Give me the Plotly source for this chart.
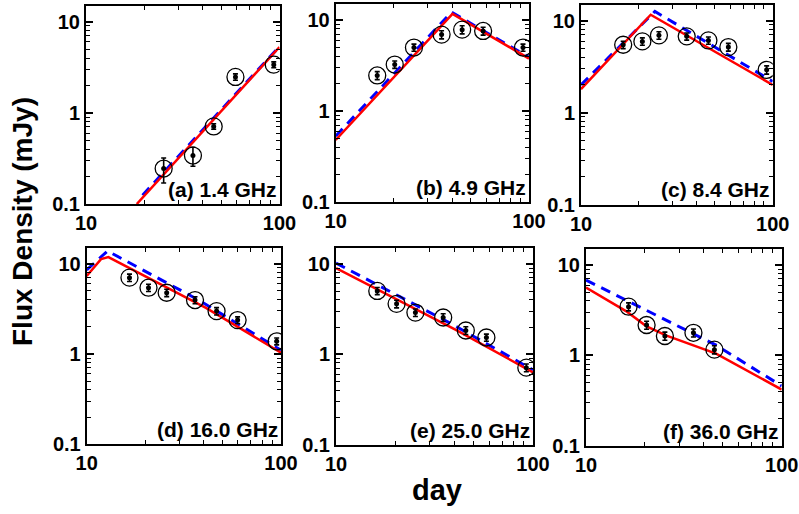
import plotly.graph_objects as go

W, H = 799, 514

# ---- observed data (day, flux mJy, error) ----
a_days = [25.2, 35.7, 45.7, 59.2, 93.4]
a_flux = [0.245, 0.34, 0.71, 2.48, 3.38]
a_err = [0.075, 0.08, 0.05, 0.2, 0.25]

b_days = [16.4, 20.2, 25.4, 35.3, 45.1, 57.9, 93.1]
b_flux = [2.46, 3.24, 4.98, 6.91, 7.84, 7.58, 4.98]
b_err = [0.25, 0.3, 0.45, 0.7, 0.8, 0.75, 0.45]

c_days = [16.6, 20.9, 25.5, 35.6, 46.2, 58.7, 93.0]
c_flux = [5.47, 5.95, 6.92, 6.75, 6.1, 5.16, 2.92]
c_err = [0.5, 0.55, 0.65, 0.6, 0.55, 0.5, 0.3]

d_days = [16.6, 20.8, 25.8, 36.1, 46.6, 59.8, 95.0]
d_flux = [6.99, 5.41, 4.76, 3.95, 2.98, 2.37, 1.38]
d_err = [0.65, 0.5, 0.45, 0.35, 0.28, 0.2, 0.12]

e_days = [16.2, 20.3, 25.3, 35.0, 45.6, 58.0, 92.5]
e_flux = [5.02, 3.61, 2.89, 2.55, 1.83, 1.53, 0.71]
e_err = [0.45, 0.35, 0.28, 0.25, 0.18, 0.14, 0.07]

f_days = [16.5, 20.4, 25.3, 35.4, 45.3]
f_flux = [3.46, 2.17, 1.64, 1.78, 1.16]
f_err = [0.35, 0.22, 0.17, 0.18, 0.12]

# ---- model curves (knot points) ----
a_red_d, a_red_f = [18.3, 100], [0.1, 5.28]
a_blue_d, a_blue_f = [19.6, 100], [0.125, 5.35]
b_red_d, b_red_f = [10, 40.2, 100], [0.48, 11.7, 3.77]
b_blue_d, b_blue_f = [10, 39.7, 100], [0.53, 12.2, 3.9]
c_red_d, c_red_f = [10, 23.1, 100], [1.80, 11.6, 2.0]
c_blue_d, c_blue_f = [10, 24.3, 100], [2.0, 12.6, 2.18]
d_red_d, d_red_f = [10, 11.85, 12.93, 41.1, 100], [7.28, 11.2, 11.8, 3.24, 1.03]
d_blue_d, d_blue_f = [10, 12.8, 37.3, 100], [8.5, 13.8, 4.0, 1.1]
e_red_d, e_red_f = [10, 40.6, 100], [8.96, 1.86, 0.63]
e_blue_d, e_blue_f = [10, 37.5, 100], [10.2, 2.24, 0.67]
f_red_d, f_red_f = [10, 16, 20.3, 25.6, 46.2, 100], [5.62, 3.09, 2.11, 1.67, 1.05, 0.42]
f_blue_d, f_blue_f = [10, 46.2, 100], [6.8, 1.3, 0.46]

labels = ["(a) 1.4 GHz", "(b) 4.9 GHz", "(c) 8.4 GHz",
          "(d) 16.0 GHz", "(e) 25.0 GHz", "(f) 36.0 GHz"]

x_ticks = [10, 100]
x_ticktext = ["10", "100"]
y_ticks = [0.1, 1, 10]
y_ticktext = ["0.1", "1", "10"]

panels = [
    (a_days, a_flux, a_err, a_red_d, a_red_f, a_blue_d, a_blue_f),
    (b_days, b_flux, b_err, b_red_d, b_red_f, b_blue_d, b_blue_f),
    (c_days, c_flux, c_err, c_red_d, c_red_f, c_blue_d, c_blue_f),
    (d_days, d_flux, d_err, d_red_d, d_red_f, d_blue_d, d_blue_f),
    (e_days, e_flux, e_err, e_red_d, e_red_f, e_blue_d, e_blue_f),
    (f_days, f_flux, f_err, f_red_d, f_red_f, f_blue_d, f_blue_f),
]

# pixel boxes (left, right, top, bottom)
boxes = [
    (86, 279.5, 5.7, 204),
    (335.7, 529, 4, 202),
    (581, 772.7, 4.5, 204.5),
    (86.7, 281, 247.7, 444.3),
    (336, 533, 248, 444.5),
    (586, 781.7, 249, 446),
]

minor_x = [20, 30, 40, 50, 60, 70, 80, 90]
minor_y = [0.2, 0.3, 0.4, 0.5, 0.6, 0.7, 0.8, 0.9, 2, 3, 4, 5, 6, 7, 8, 9]

FONT = "Liberation Sans, Arial, Helvetica, sans-serif"

fig = go.Figure()
layout = {}
for i, (box, p) in enumerate(zip(boxes, panels)):
    n = "" if i == 0 else str(i + 1)
    xa, ya = "x" + n, "y" + n
    days, flux, err, rd, rf, bd, bf = p
    fig.add_trace(go.Scatter(x=bd, y=bf, mode="lines", xaxis=xa, yaxis=ya,
                             line=dict(color="#0000FF", width=3, dash="10px,7px"),
                             showlegend=False, hoverinfo="skip"))
    fig.add_trace(go.Scatter(x=rd, y=rf, mode="lines", xaxis=xa, yaxis=ya,
                             line=dict(color="#FF0000", width=2.5),
                             showlegend=False, hoverinfo="skip"))
    fig.add_trace(go.Scatter(x=days, y=flux, mode="markers", xaxis=xa, yaxis=ya,
                             marker=dict(symbol="circle-open", size=17, color="black",
                                         line=dict(width=1.3, color="black")),
                             error_y=dict(type="data", array=err, color="black",
                                          thickness=1.6, width=2.5),
                             showlegend=False))
    fig.add_trace(go.Scatter(x=days, y=flux, mode="markers", xaxis=xa, yaxis=ya,
                             marker=dict(symbol="circle", size=5, color="black"),
                             showlegend=False, hoverinfo="skip"))
    l, r, t, b = box
    common = dict(showgrid=False, zeroline=False, showline=True, linecolor="black",
                  linewidth=2, mirror="allticks", ticks="inside", ticklen=7,
                  tickwidth=1.5, tickcolor="black", automargin=False,
                  tickfont=dict(family=FONT, size=20, color="black", weight="bold"),
                  minor=dict(ticks="inside", ticklen=4, tickwidth=1, tickcolor="black",
                             showgrid=False))
    layout["xaxis" + n] = dict(type="log", range=[1, 2], domain=[l / W, r / W],
                               anchor=ya, tickvals=x_ticks, ticktext=x_ticktext,
                               **{**common, "minor": dict(common["minor"], tickvals=minor_x)})
    layout["yaxis" + n] = dict(type="log", range=[-1, 1.176], domain=[1 - b / H, 1 - t / H],
                               anchor=xa, tickvals=y_ticks, ticktext=y_ticktext,
                               **{**common, "minor": dict(common["minor"], tickvals=minor_y)})

annotations = []
for i, lab in enumerate(labels):
    n = "" if i == 0 else str(i + 1)
    annotations.append(dict(text=lab, xref="x" + n + " domain", yref="y" + n + " domain",
                            x=1, y=0, xanchor="right", yanchor="bottom", xshift=-1, yshift=1,
                            showarrow=False,
                            font=dict(family=FONT, size=21, color="black", weight="bold")))
annotations.append(dict(text="Flux Density (mJy)", xref="paper", yref="paper",
                        x=22 / W, y=1 - 222 / H, textangle=-90, showarrow=False,
                        xanchor="center", yanchor="middle",
                        font=dict(family=FONT, size=28, color="black", weight="bold")))
annotations.append(dict(text="day", xref="paper", yref="paper",
                        x=437 / W, y=1 - 490 / H, showarrow=False,
                        xanchor="center", yanchor="middle",
                        font=dict(family=FONT, size=29, color="black", weight="bold")))

fig.update_layout(width=W, height=H, margin=dict(l=0, r=0, t=0, b=0, autoexpand=False),
                  plot_bgcolor="white", paper_bgcolor="white",
                  annotations=annotations, **layout)
fig.write_html("out.html", config={"displayModeBar": False},
               post_script="document.body.style.margin='0px';document.body.style.overflow='hidden';")
